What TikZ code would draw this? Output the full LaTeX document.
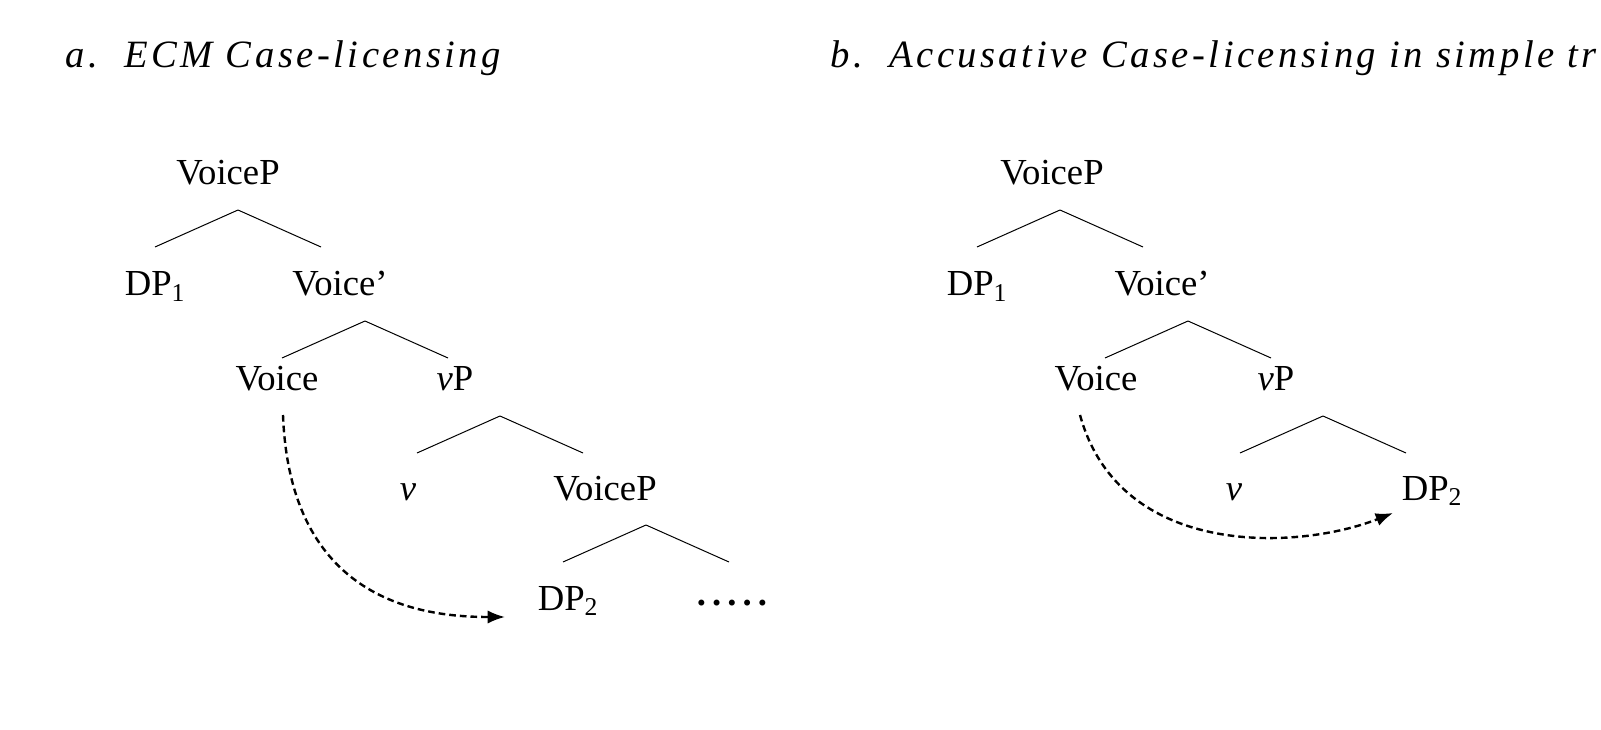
\documentclass[tikz,border=0pt]{standalone}
\usepackage{fontspec}
\setmainfont{Liberation Serif}
\newfontfamily\ttlfont[LetterSpace=9]{Liberation Serif}
\usetikzlibrary{arrows.meta,calc}
\tikzset{every picture/.style={line width=0.75pt},
  lbl/.style={anchor=base,inner sep=0pt,font=\fontsize{27.5}{33}\selectfont},
  ttl/.style={anchor=base west,inner sep=0pt,font=\ttlfont\itshape\fontsize{29}{34}\selectfont},
  lic/.style={line width=1.8pt,dash pattern=on 5pt off 3pt,-{Latex[length=13pt,width=10pt]}}}
\begin{document}
\begin{tikzpicture}[x=0.75pt,y=0.75pt,yscale=-1,xscale=1]
\path[use as bounding box] (0,0) rectangle (1601,730);
\begin{scope}
\clip (0,0) rectangle (1601,730);
% Titles
\node[ttl] (ta) at (65,68) {a.\ \ ECM Case-licensing};
\node[ttl] (tb) at (830,68) {b.\ \ Accusative Case-licensing in simple transitives};
\end{scope}

% Tree a
\node[lbl] (aVP) at (228,185) {VoiceP};
\node[lbl] (aDP1) at (155,296) {DP\textsubscript{1}};
\node[lbl] (aVb) at (340,296) {Voice'};
\node[lbl] (aV) at (277,391) {Voice};
\node[lbl] (avP) at (455,391) {\textit{v}P};
\node[lbl] (av) at (408,500) {\textit{v}};
\node[lbl] (aVP2) at (605,500) {VoiceP};
\node[lbl] (aDP2) at (568,610) {DP\textsubscript{2}};
\node[lbl] (adots) at (732,605) {\textbf{.\,.\,.\,.\,.}};
\foreach \p/\dx in {aVP/10,aVb/25,avP/45,aVP2/41}
  \draw ($(\p.base)+(\dx,25)$) -- +(-83,37) ($(\p.base)+(\dx,25)$) -- +(83,37);
\coordinate (aS) at ($(aV.base)+(6,24)$);
\coordinate (aE) at ($(aDP2.base)+(-63,7)$);
\draw[lic] (aS) .. controls (290,600) and (420,617) .. (aE);

% Tree b
\node[lbl] (bVP) at (1052,185) {VoiceP};
\node[lbl] (bDP1) at (977,296) {DP\textsubscript{1}};
\node[lbl] (bVb) at (1162,296) {Voice'};
\node[lbl] (bV) at (1096,391) {Voice};
\node[lbl] (bvP) at (1276,391) {\textit{v}P};
\node[lbl] (bv) at (1234,500) {\textit{v}};
\node[lbl] (bDP2) at (1432,500) {DP\textsubscript{2}};
\foreach \p/\dx in {bVP/8,bVb/26,bvP/47}
  \draw ($(\p.base)+(\dx,25)$) -- +(-83,37) ($(\p.base)+(\dx,25)$) -- +(83,37);
\coordinate (bS) at ($(bV.base)+(-16,24)$);
\coordinate (bE) at ($(bDP2.base)+(-39,13)$);
\draw[lic] (bS) .. controls (1120,560) and (1300,550) .. (bE);
\end{tikzpicture}
\end{document}
